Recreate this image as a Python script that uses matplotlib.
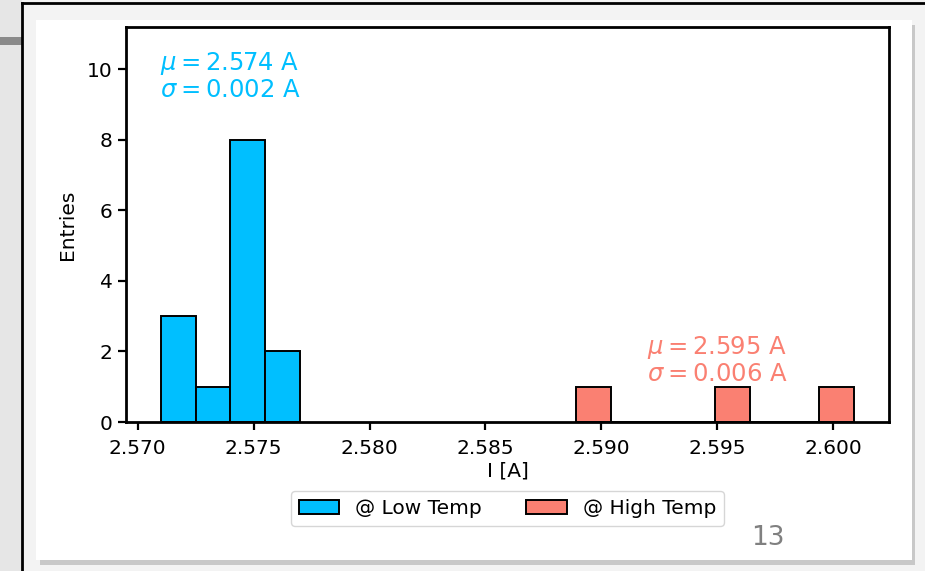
"""Current distribution at low / high temperature."""
import numpy as np
import matplotlib
matplotlib.use("Agg")
from matplotlib import pyplot as plt
from matplotlib.patches import Rectangle

# histogram bins (A) and counts
low_edges = [2.5710, 2.5725, 2.5740, 2.5755, 2.5770]
low_counts = [3, 1, 8, 2]
high_edges = [2.5889, 2.5904, 2.5919, 2.5934, 2.5949, 2.5964, 2.5979, 2.5994, 2.6009]
high_counts = [1, 0, 0, 0, 1, 0, 0, 1]

low_label = "@ Low Temp"
high_label = "@ High Temp"
low_stats = "$\\mu = 2.574$ A\n$\\sigma = 0.002$ A"
high_stats = "$\\mu = 2.595$ A\n$\\sigma = 0.006$ A"
xticks = [2.570, 2.575, 2.580, 2.585, 2.590, 2.595, 2.600]

blue = "#00bfff"
red = "#fa8072"

fig = plt.figure(figsize=(9.25, 5.71), dpi=100)
fig.patch.set_facecolor("#f3f3f3")

# slide decoration: left strip, frame lines, card with shadow
fig.patches.append(Rectangle((0, 0), 22 / 925, 1, transform=fig.transFigure,
                             facecolor="#e6e6e6", edgecolor="none", zorder=-3))
fig.patches.append(Rectangle((0, 1 - 45 / 571), 22 / 925, 8 / 571, transform=fig.transFigure,
                             facecolor="#8a8a8a", edgecolor="none", zorder=-3))
fig.patches.append(Rectangle((40 / 925, 6 / 571), 875 / 925, 540 / 571, transform=fig.transFigure,
                             facecolor="#c8c8c8", edgecolor="none", zorder=-3))
fig.patches.append(Rectangle((36 / 925, 11 / 571), 876 / 925, 540 / 571, transform=fig.transFigure,
                             facecolor="white", edgecolor="none", zorder=-2))
fig.add_artist(plt.Line2D([22 / 925, 22 / 925], [0, 1 - 3 / 571], transform=fig.transFigure,
                          color="black", lw=2))
fig.add_artist(plt.Line2D([22 / 925, 1], [1 - 3 / 571, 1 - 3 / 571], transform=fig.transFigure,
                          color="black", lw=2))

ax = fig.add_axes([126 / 925, 1 - 422 / 571, 763 / 925, 395 / 571])
ax.set_zorder(5)

ax.hist(low_edges[:-1], bins=low_edges, weights=low_counts, color=blue,
        edgecolor="black", linewidth=1.4, label=low_label)
ax.hist(high_edges[:-1], bins=high_edges, weights=high_counts, color=red,
        edgecolor="black", linewidth=1.4, label=high_label)

ax.set_xlim(2.5695, 2.6024)
ax.set_ylim(0, 11.2)
ax.set_xticks(xticks)
ax.set_xticklabels([f"{t:.3f}" for t in xticks])
ax.set_yticks([0, 2, 4, 6, 8, 10])
ax.tick_params(labelsize=14.5, width=1.6, length=6)
ax.tick_params(axis="x", pad=6)
for s in ax.spines.values():
    s.set_linewidth(2.0)

ax.set_xlabel("I [A]", fontsize=14.5, labelpad=3)
ax.set_ylabel("Entries", fontsize=14.5, labelpad=7)

ax.text(0.045, 0.942, low_stats, transform=ax.transAxes, color=blue,
        fontsize=17.5, va="top", ha="left", linespacing=1.05)
ax.text(0.683, 0.222, high_stats, transform=ax.transAxes, color=red,
        fontsize=17.5, va="top", ha="left", linespacing=1.05)

ax.legend(loc="center", bbox_to_anchor=(0.5, -0.218), ncol=2, fontsize=14.5,
          handlelength=2.0, columnspacing=2.2)

fig.text(768 / 925, 1 - 538 / 571, "13", fontsize=19, color="#808080",
         ha="center", va="center")

fig.savefig("out.png", dpi=100)
